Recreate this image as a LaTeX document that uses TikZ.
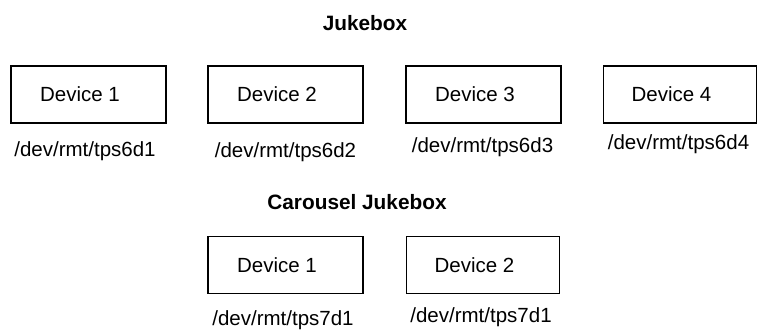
\documentclass[tikz,border=0pt]{standalone}
\usepackage{fontspec}
\setmainfont{Liberation Sans}
\begin{document}
\begin{tikzpicture}[x=1pt,y=-1pt,
  devbox/.style={draw,line width=1.8pt,minimum width=155pt,minimum height=57pt,inner sep=0pt,font=\fontsize{20.5}{24}\selectfont},
  path/.style={inner sep=0pt,font=\fontsize{20.5}{24}\selectfont},
  title/.style={inner sep=0pt,font=\fontsize{20.8}{24}\selectfont\bfseries}]
\useasboundingbox (0,0) rectangle (757,331);
\newcommand{\dv}[1]{Device #1\kern17pt}
\node[title] (t1) at (365,23) {Jukebox};
\node[devbox] (d1) at (88.5,94.5) {\dv{1}};
\node[devbox] (d2) at (285.5,94.5) {\dv{2}};
\node[devbox] (d3) at (483.5,94.5) {\dv{3}};
\node[devbox,minimum width=153pt] (d4) at (680,94.5) {\dv{4}};
\node[path] (p1) at (85,151.5) {/dev/rmt/tps6d1};
\node[path] (p2) at (285.5,152.5) {/dev/rmt/tps6d2};
\node[path] (p3) at (482.5,147.5) {/dev/rmt/tps6d3};
\node[path] (p4) at (678.5,144) {/dev/rmt/tps6d4};
\node[title] (t2) at (357,202.5) {Carousel Jukebox};
\node[devbox] (c1) at (285.5,265) {\dv{1}};
\node[devbox,minimum width=153pt] (c2) at (483,265) {\dv{2}};
\node[path] (q1) at (283,320.5) {/dev/rmt/tps7d1};
\node[path] (q2) at (481,317.5) {/dev/rmt/tps7d1};
\end{tikzpicture}
\end{document}
